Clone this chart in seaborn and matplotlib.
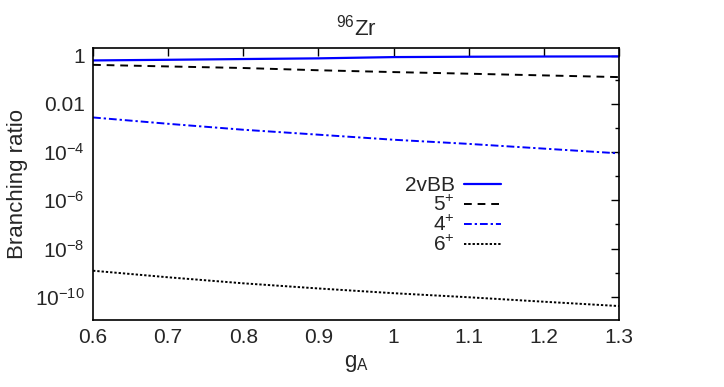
"""Branching ratios of 96Zr decay channels versus g_A."""


# Import libraries
import matplotlib
matplotlib.use('Agg')
import matplotlib.pyplot as plt
import matplotlib.ticker as mtick
import numpy as np
import pandas as pd
import seaborn as sns


# Data
g_A = [0.6, 0.7, 0.8, 0.9, 1.0, 1.1, 1.2, 1.3]
ratio_2vbb = [0.64, 0.68, 0.73, 0.78, 0.88, 0.91, 0.93, 0.94]
ratio_5plus = [0.42, 0.36, 0.31, 0.25, 0.21, 0.18, 0.153, 0.13]
ratio_4plus = [2.75e-3, 1.5e-3, 8.5e-4, 5.3e-4, 3.27e-4, 2.2e-4, 1.4e-4, 8.9e-5]
ratio_6plus = [1.2e-9, 6.4e-10, 3.6e-10, 2.2e-10, 1.4e-10, 9.5e-11, 6.2e-11, 4.1e-11]
labels = ['2vBB', r'5$^{+}$', r'4$^{+}$', r'6$^{+}$']
ytick_vals = [1, 1e-2, 1e-4, 1e-6, 1e-8, 1e-10]
ytick_labels = ['1', '0.01', r'10$^{-4}$', r'10$^{-6}$', r'10$^{-8}$', r'10$^{-10}$']


def log_label(y, pos):
    """Gnuplot style labels for the log axis."""
    for k, v in zip(ytick_vals, ytick_labels):
        if np.isclose(y, k, rtol=1e-3, atol=0):
            return v
    return ''


# Set the style
sns.set_style('white')
plt.rcParams['font.family'] = ['Liberation Sans', 'DejaVu Sans']
plt.rcParams['mathtext.fontset'] = 'custom'
plt.rcParams['mathtext.rm'] = 'Liberation Sans'
plt.rcParams['mathtext.it'] = 'Liberation Sans'
plt.rcParams['mathtext.default'] = 'regular'

fig = plt.figure(figsize=(7.24, 3.87), dpi=100)
ax = fig.add_axes([0.1285, 0.1731, 0.7265, 0.7029])

# Plot each channel
df = pd.DataFrame({'g_A': g_A, labels[0]: ratio_2vbb, labels[1]: ratio_5plus,
                   labels[2]: ratio_4plus, labels[3]: ratio_6plus})
styles = [('#0000ff', None, 1.6),
          ('black', (4, 3), 1.4),
          ('#0000ff', (4, 1.5, 1.2, 1.5), 1.4),
          ('black', (1.2, 1.0), 1.4)]
for lab, (col, dash, lw) in zip(labels, styles):
    sns.lineplot(data=df, x='g_A', y=lab, color=col, lw=lw, label=lab, ax=ax)
    if dash is not None:
        ax.lines[-1].set_dashes(dash)

# Format the axes
ax.set_yscale('log')
ax.set_xlim(0.6, 1.3)
ax.set_ylim(1.08e-11, 2.1)
ax.xaxis.set_major_locator(mtick.FixedLocator(g_A))
ax.xaxis.set_major_formatter(mtick.FuncFormatter(lambda x, pos: '{:g}'.format(round(x, 2))))
ax.yaxis.set_major_locator(mtick.FixedLocator(ytick_vals))
ax.yaxis.set_minor_locator(mtick.FixedLocator([10.0 ** k for k in range(-11, 1, 2)]))
ax.yaxis.set_major_formatter(mtick.FuncFormatter(log_label))
ax.yaxis.set_minor_formatter(mtick.NullFormatter())
ax.tick_params(which='both', direction='in', top=True, right=True, labelsize=15,
               color='black', width=1, pad=6)
ax.tick_params(which='major', length=6)
ax.tick_params(which='minor', length=3)
for sp in ax.spines.values():
    sp.set_color('black')
    sp.set_linewidth(1.2)
ax.set_xlabel(r'g$_{A}$', fontsize=16, labelpad=4)
ax.set_ylabel('Branching ratio', fontsize=16, labelpad=5)
ax.set_title(r'$^{96}$Zr', fontsize=16, pad=9)

# Legend in gnuplot style: label then sample, right aligned
ax.legend(loc='upper right', bbox_to_anchor=(0.775, 0.53), frameon=False,
          markerfirst=False, fontsize=15, handlelength=1.75, handletextpad=0.45,
          labelspacing=0.0, borderpad=0, borderaxespad=0)

plt.savefig('out.png', dpi=100)
